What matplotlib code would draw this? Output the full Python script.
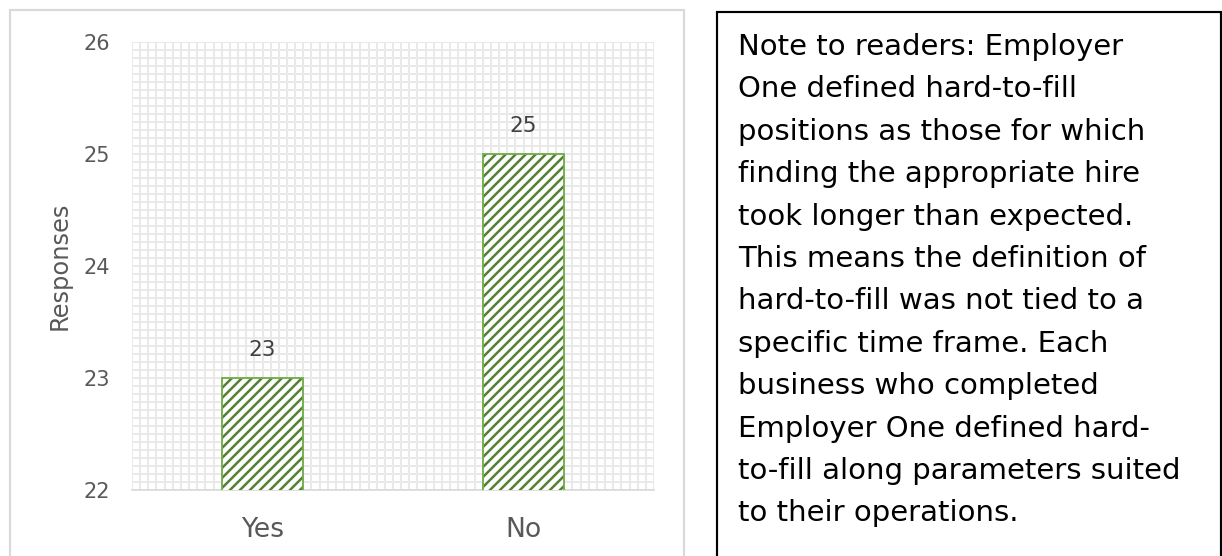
import numpy as np
import matplotlib.pyplot as plt
from matplotlib.patches import Rectangle
from matplotlib.ticker import MultipleLocator

categories = ["Yes", "No"]
responses = [23, 25]
y_ticks = [22, 23, 24, 25, 26]

note_lines = [
    "Note to readers: Employer",
    "One defined hard-to-fill",
    "positions as those for which",
    "finding the appropriate hire",
    "took longer than expected.",
    "This means the definition of",
    "hard-to-fill was not tied to a",
    "specific time frame. Each",
    "business who completed",
    "Employer One defined hard-",
    "to-fill along parameters suited",
    "to their operations.",
]

W, H, DPI = 1222, 556, 120
plt.rcParams["font.family"] = ["DejaVu Sans"]
plt.rcParams["hatch.linewidth"] = 1.5

fig = plt.figure(figsize=(W / DPI, H / DPI), dpi=DPI)


def px(x, y):
    # pixel position from the top-left corner -> figure fraction
    return x / W, 1 - y / H


# chart area frame
fig.patches.append(Rectangle(px(10, 600), 674 / W, 590 / H, transform=fig.transFigure,
                             fill=False, edgecolor="#d9d9d9", linewidth=1.3))

ax = fig.add_axes([132 / W, 66 / H, 522 / W, 448 / H])
x = np.arange(len(categories))

# hatched bars: stripes first, then the lighter outline on top
ax.bar(x, responses, width=0.314, bottom=0, color="white", edgecolor="#548235",
       hatch="////", linewidth=0, zorder=3)
ax.bar(x, responses, width=0.314, fill=False, edgecolor="#70ad47", linewidth=1.1, zorder=4)

for xi, v in zip(x, responses):
    ax.annotate(str(v), (xi, v), xytext=(0, 11), textcoords="offset points",
                ha="center", va="bottom", fontsize=13, color="#404040")

ax.set_xlim(-0.5, 1.5)
ax.set_ylim(y_ticks[0], y_ticks[-1])
ax.set_yticks(y_ticks)
ax.set_xticks(x)
ax.set_xticklabels(categories)

# fine grid pattern behind the bars
ax.xaxis.set_minor_locator(MultipleLocator(1 / 32))
ax.yaxis.set_minor_locator(MultipleLocator(1 / 14))
ax.grid(which="both", color="#e9e9e9", linewidth=1.2, zorder=0)
ax.set_axisbelow(True)

for side in ["top", "right", "left"]:
    ax.spines[side].set_visible(False)
ax.spines["bottom"].set_color("#d9d9d9")
ax.spines["bottom"].set_linewidth(1.0)

ax.tick_params(which="both", length=0)
ax.tick_params(axis="y", labelsize=12.5, labelcolor="#595959", pad=13)
ax.tick_params(axis="x", labelsize=16, labelcolor="#595959", pad=16)
ax.set_ylabel("Responses", fontsize=14.5, color="#595959", labelpad=7)

# note box on the right
fig.patches.append(Rectangle(px(717, 600), 504 / W, 588 / H, transform=fig.transFigure,
                             fill=False, edgecolor="black", linewidth=1.3))
for i, line in enumerate(note_lines):
    fig.text(*px(738, 55 + i * 42.4), line, fontsize=17.5, color="black", va="baseline")

fig.savefig("out.png", dpi=DPI)
